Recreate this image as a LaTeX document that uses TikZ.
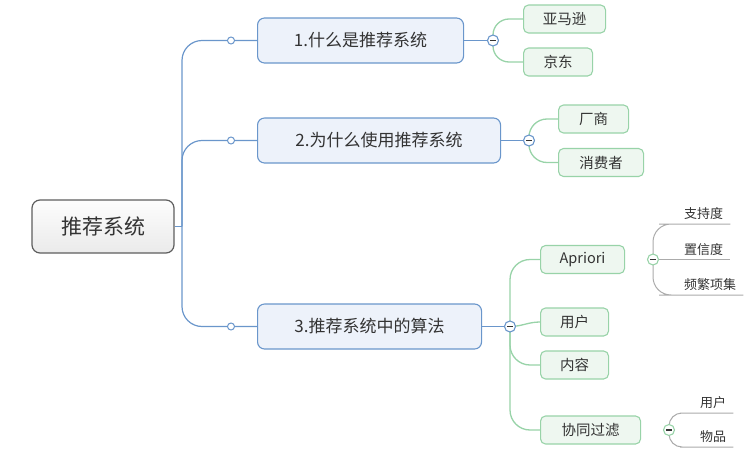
\documentclass[tikz,border=0pt]{standalone}
\usepackage{fontspec}
\setmainfont{Noto Sans CJK SC}
\usepackage{xcolor}
\usepackage{tikz}
\usetikzlibrary{positioning,calc,backgrounds}

\definecolor{txt}{HTML}{333333}
\definecolor{rootedge}{HTML}{5E5E5E}
\definecolor{blueedge}{HTML}{6A96CB}
\definecolor{bluefill}{HTML}{EDF2FA}
\definecolor{greenedge}{HTML}{98D3A8}
\definecolor{greenfill}{HTML}{EEF7F0}
\definecolor{greyedge}{HTML}{ABABAB}

\begin{document}
\begin{tikzpicture}[x=1pt, y=-1pt,
    rootbox/.style={draw=rootedge, line width=1.2pt, rounded corners=8pt,
        top color=white!70!black!3, bottom color=black!8, text=txt,
        font=\fontsize{21}{25}\selectfont},
    topic/.style={draw=blueedge, line width=1.1pt, rounded corners=7pt, fill=bluefill,
        anchor=west, minimum height=45pt, text=txt, font=\fontsize{17}{20}\selectfont},
    sub/.style={draw=greenedge, line width=1.1pt, rounded corners=5pt, fill=greenfill,
        anchor=west, minimum height=28pt, text=txt, font=\fontsize{14.5}{17}\selectfont},
    leaf/.style={anchor=south west, inner xsep=7pt, inner ysep=4pt, text=txt,
        font=\fontsize{13}{15}\selectfont},
    knob/.style={circle, draw=blueedge, fill=white, line width=1pt, inner sep=0pt, minimum size=7pt},
    fold/.style={circle, draw=#1, fill=white, line width=1.1pt, inner sep=0pt, minimum size=11pt,
        path picture={\draw[txt, line width=1.1pt]
            ([xshift=-2.6pt]path picture bounding box.center) -- ([xshift=2.6pt]path picture bounding box.center);}},
    blueline/.style={draw=blueedge, line width=1.2pt},
    greenline/.style={draw=greenedge, line width=1.3pt},
    greyline/.style={draw=greyedge, line width=1pt}]

    \useasboundingbox (0,0) rectangle (748,455);

    % Root
    \node[rootbox, minimum width=142pt, minimum height=53pt] (root) at (103,226.5) {推荐系统};

    % Main topics
    \node[topic, minimum width=206pt] (t1) at (257,40.5) {1.什么是推荐系统};
    \node[topic, minimum width=243pt] (t2) at (257,140.5) {2.为什么使用推荐系统};
    \node[topic, minimum width=224pt] (t3) at (257,326.5) {3.推荐系统中的算法};

    % Small joints on the trunk
    \node[knob] (k1) at (231,40.5) {};
    \node[knob] (k2) at (231,140.5) {};
    \node[knob] (k3) at (231,326.5) {};

    % Collapse buttons
    \node[fold=blueedge] (f1) at (493,40.5) {};
    \node[fold=blueedge] (f2) at (529,140.5) {};
    \node[fold=blueedge] (f3) at (510,326.5) {};
    \node[fold=greenedge] (f4) at (653,259.5) {};
    \node[fold=greenedge] (f5) at (669,430) {};

    % Subtopics
    \node[sub, minimum width=82pt] (n1) at (523,19) {亚马逊};
    \node[sub, minimum width=69pt] (n2) at (523,62) {京东};
    \node[sub, minimum width=70pt] (n3) at (558,119) {厂商};
    \node[sub, minimum width=85pt] (n4) at (558,162.5) {消费者};
    \node[sub, minimum width=84pt] (n5) at (540,259.5) {Apriori};
    \node[sub, minimum width=68pt] (n6) at (540,322) {用户};
    \node[sub, minimum width=68pt] (n7) at (540,365) {内容};
    \node[sub, minimum width=100pt] (n8) at (540,430) {协同过滤};

    % Leaves
    \node[leaf] (l1) at (677,224) {支持度};
    \node[leaf] (l2) at (677,259.5) {置信度};
    \node[leaf] (l3) at (677,295) {频繁项集};
    \node[leaf] (l4) at (693,413) {用户};
    \node[leaf] (l5) at (693,447) {物品};

    \begin{scope}[on background layer]
        % Trunk
        \coordinate (hub) at (182,226.5);
        \draw[blueline] (root.east) -- (hub);
        \foreach \t in {t1,t2,t3}
            \draw[blueline, rounded corners=20pt] (hub) |- (\t.west);
        \foreach \t/\f in {t1/f1,t2/f2,t3/f3}
            \draw[blueline] (\t.east) -- (\f);

        % Subtopic branches
        \draw[greenline, rounded corners=16pt] (f1.center) |- (n1.west);
        \draw[greenline, rounded corners=16pt] (f1.center) |- (n2.west);
        \draw[greenline, rounded corners=18pt] (f2.center) |- (n3.west);
        \draw[greenline, rounded corners=18pt] (f2.center) |- (n4.west);
        \foreach \n in {n5,n7,n8}
            \draw[greenline, rounded corners=20pt] (f3.center) |- (\n.west);
        \draw[greenline] (f3.center) to[out=0, in=180] (n6.west);

        % Leaf branches
        \draw[greyline, rounded corners=18pt] (f4.center) |- (l1.south west) -- (l1.south east);
        \draw[greyline] (f4.center) -- (l2.south west) -- (l2.south east);
        \draw[greyline, rounded corners=18pt] (f4.center) |- (l3.south west) -- (l3.south east);
        \draw[greyline, rounded corners=13pt] (f5.center) |- (l4.south west) -- (l4.south east);
        \draw[greyline, rounded corners=13pt] (f5.center) |- (l5.south west) -- (l5.south east);
    \end{scope}
\end{tikzpicture}
\end{document}
